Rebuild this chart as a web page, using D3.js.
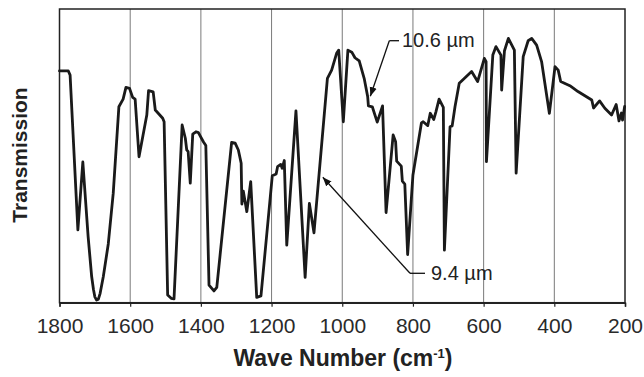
<!DOCTYPE html>
<html><head><meta charset="utf-8">
<script src="https://cdn.jsdelivr.net/npm/d3@7/dist/d3.min.js"></script>
<style>body{margin:0;background:#fff}svg{display:block}</style>
</head><body>
<svg id="c" width="644" height="377"></svg>
<script>
const wavenumbers = [1800,1775,1770,1748,1734,1719,1709,1704,1700,1695,1690,1685,1676,1662,1648,1632,1620,1612,1602,1593,1586,1575,1553,1548,1535,1529,1508,1504,1494,1484,1476,1453,1444,1440,1436,1430,1423,1414,1407,1393,1386,1377,1363,1355,1313,1303,1294,1286,1284,1280,1270,1259,1242,1230,1198,1187,1183,1174,1170,1164,1157,1131,1105,1093,1080,1042,1030,1016,1010,997,984,973,964,952,938,928,926,915,901,886,876,856,849,846,833,830,823,815,800,776,771,758,751,741,735,726,714,711,695,689,681,669,634,617,598,593,592,574,565,551,549,541,530,513,508,488,474,464,450,436,414,398,389,382,356,333,294,289,272,257,238,225,217,210,207,201];
const transmission = [78.9,78.9,77.5,24.8,47.9,22.5,8.9,4.6,2.0,0.9,1.2,3.2,8.9,20.0,37.2,66.7,69.3,73.3,73.0,69.9,69.3,49.7,63.9,72.2,71.8,65.6,62.8,61.6,2.6,1.5,1.3,60.5,56.0,52.0,51.4,40.7,57.4,58.2,57.9,54.8,53.5,6.0,4.0,5.2,54.6,54.3,52.0,47.5,33.6,38.0,31.0,41.2,1.8,2.3,43.2,43.8,46.3,47.1,45.8,48.4,19.6,65.3,8.6,33.8,23.8,76.4,79.2,84.9,86.0,61.6,86.0,85.3,83.4,82.3,76.4,70.1,67.0,66.7,61.5,67.0,30.7,57.1,54.8,48.2,46.5,41.4,40.4,16.4,43.5,61.2,61.6,60.3,64.5,62.4,65.0,69.3,66.5,17.9,59.9,60.2,66.7,74.7,78.7,75.3,83.2,82.1,48.0,84.3,87.2,84.3,72.4,85.8,90.0,86.0,44.1,83.8,89.2,90.0,87.7,82.1,64.5,80.4,79.2,75.3,73.9,71.9,69.0,66.3,68.7,66.2,63.9,67.5,61.9,64.6,62.2,66.8];
const xTicks = [1800,1600,1400,1200,1000,800,600,400,200];
const annotations = [
  {label: "10.6 µm", wn: 922, t: 71.0},
  {label: "9.4 µm", wn: 1055, t: 42.7}
];
const xTitle = "Wave Number (cm";
const xTitleSup = "-1";
const yTitle = "Transmission";

const svg = d3.select("#c");
const L = 59.5, R = 625, T = 9, B = 302.7;
const x = d3.scaleLinear().domain([1800, 200]).range([L, R]);
const y = d3.scaleLinear().domain([0, 100]).range([B, T]);
const font = "Liberation Sans, Arial, sans-serif";

// grid
svg.append("g").selectAll("line").data(xTicks.slice(1, -1)).join("line")
  .attr("x1", d => x(d)).attr("x2", d => x(d)).attr("y1", T).attr("y2", B)
  .attr("stroke", "#7a7a7a").attr("stroke-width", 1);

// frame
svg.append("rect").attr("x", L).attr("y", T).attr("width", R - L).attr("height", B - T)
  .attr("fill", "none").attr("stroke", "#222").attr("stroke-width", 1.5);

// axis
const ax = svg.append("g").attr("transform", `translate(0,${B})`)
  .call(d3.axisBottom(x).tickValues(xTicks).tickFormat(d3.format("d")).tickSize(4).tickPadding(11));
ax.select(".domain").attr("stroke", "#222").attr("stroke-width", 1.5);
ax.selectAll(".tick line").attr("stroke", "#222").attr("stroke-width", 1.2);
ax.selectAll("text").attr("font-family", font).attr("font-size", 21).attr("fill", "#2a2a2a");

// line
const pts = wavenumbers.map((w, i) => [w, transmission[i]]);
svg.append("path").datum(pts)
  .attr("d", d3.line().x(d => x(d[0])).y(d => y(d[1])))
  .attr("fill", "none").attr("stroke", "#1a1a1a").attr("stroke-width", 2.8)
  .attr("stroke-linejoin", "round").attr("stroke-linecap", "round");

// arrow marker
svg.append("defs").append("marker").attr("id", "ah").attr("viewBox", "0 0 10 10")
  .attr("refX", 10).attr("refY", 5).attr("markerWidth", 9).attr("markerHeight", 9)
  .attr("markerUnits", "userSpaceOnUse").attr("orient", "auto")
  .append("path").attr("d", "M0,1 L10,5 L0,9 Z").attr("fill", "#111");

// 10.6 annotation
const a1 = annotations[0];
svg.append("path").attr("d", `M389.3,40.7 L399,40.7`)
  .attr("fill", "none").attr("stroke", "#111").attr("stroke-width", 1.3);
svg.append("line").attr("x1", 389.3).attr("y1", 40.7).attr("x2", x(a1.wn) + 0.5).attr("y2", y(a1.t) + 2)
  .attr("stroke", "#111").attr("stroke-width", 1.3).attr("marker-end", "url(#ah)");
svg.append("text").attr("x", 402).attr("y", 47).attr("font-family", font).attr("font-size", 20).attr("fill", "#222").text(a1.label);

// 9.4 annotation
const a2 = annotations[1];
svg.append("path").attr("d", `M425,273.3 L410,273.3`)
  .attr("fill", "none").attr("stroke", "#111").attr("stroke-width", 1.3);
svg.append("line").attr("x1", 410).attr("y1", 273.3).attr("x2", x(a2.wn)).attr("y2", y(a2.t))
  .attr("stroke", "#111").attr("stroke-width", 1.3).attr("marker-end", "url(#ah)");
svg.append("text").attr("x", 431).attr("y", 280).attr("font-family", font).attr("font-size", 20).attr("fill", "#222").text(a2.label);

// titles
const xt = svg.append("text").attr("x", 343).attr("y", 366).attr("text-anchor", "middle")
  .attr("font-family", font).attr("font-weight", "bold").attr("font-size", 23).attr("fill", "#222");
xt.append("tspan").text(xTitle);
xt.append("tspan").attr("font-size", 13).attr("dy", -8).text(xTitleSup);
xt.append("tspan").attr("dy", 8).text(")");

svg.append("text").attr("transform", "translate(27,155) rotate(-90)").attr("text-anchor", "middle")
  .attr("font-family", font).attr("font-weight", "bold").attr("font-size", 21).attr("fill", "#222").text(yTitle);
</script>
</body></html>
